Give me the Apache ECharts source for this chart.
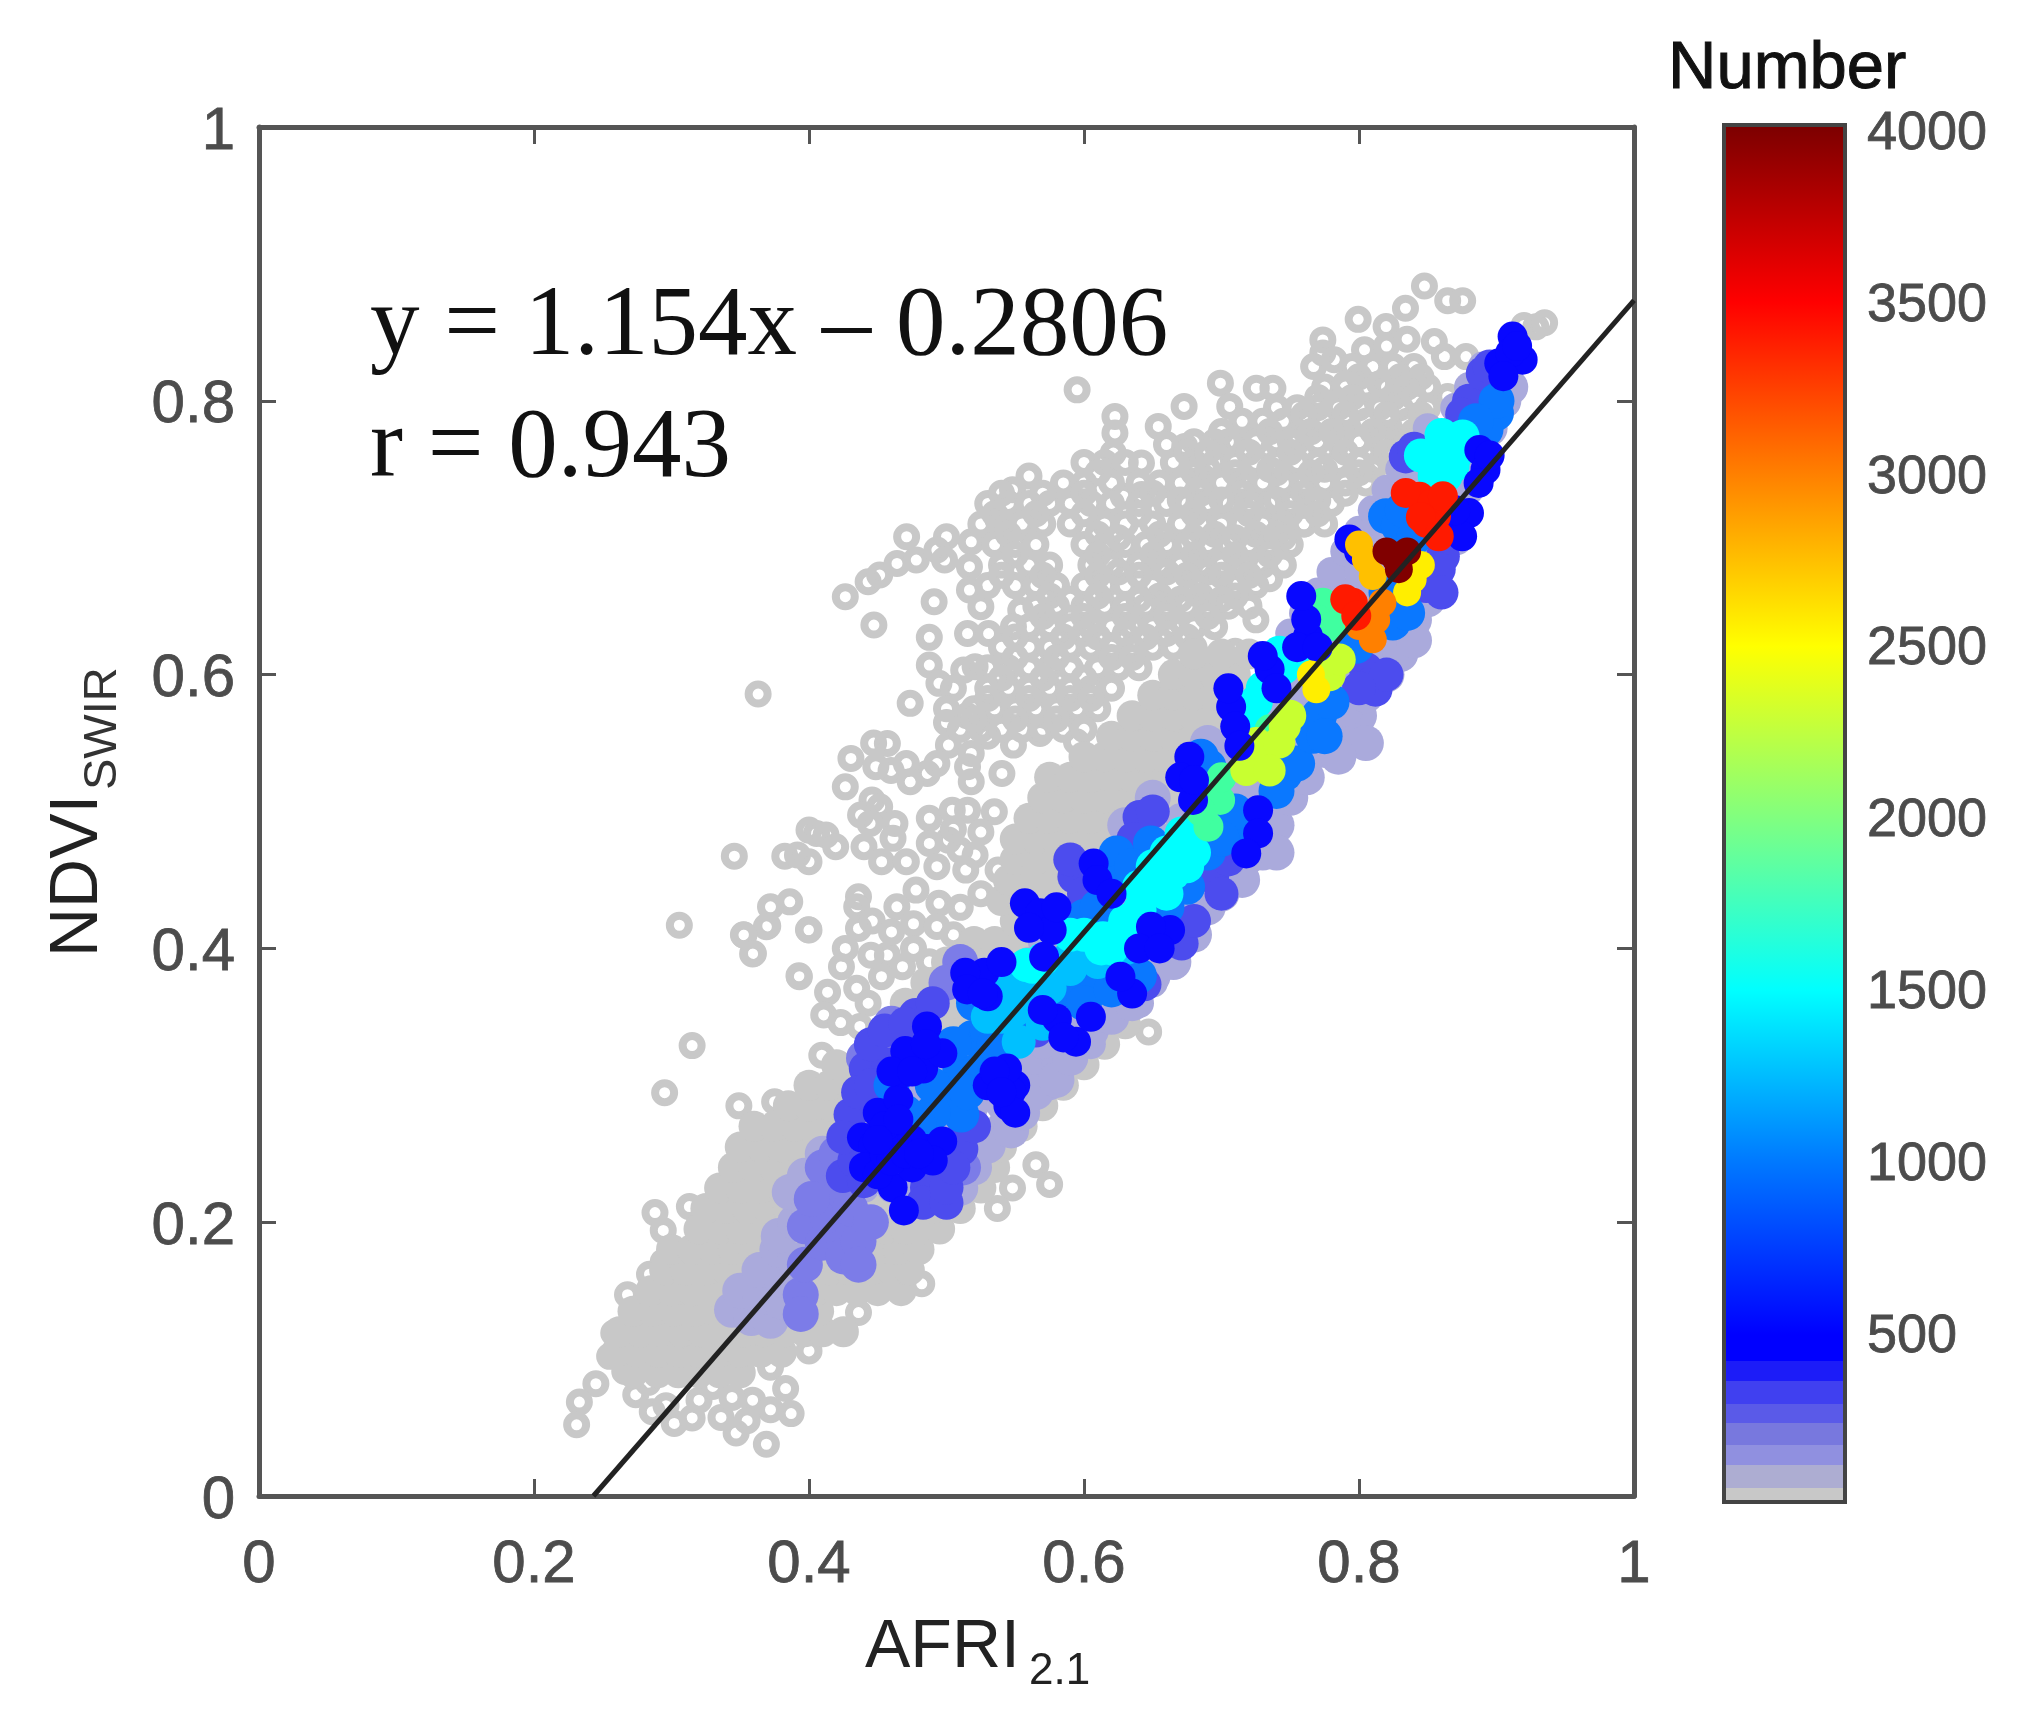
<!DOCTYPE html>
<html><head><meta charset="utf-8">
<style>html,body{margin:0;padding:0;background:#fff}#c{width:2037px;height:1728px}</style>
<script src="https://cdn.jsdelivr.net/npm/echarts@6/dist/echarts.min.js"></script>
</head><body><div id="c"></div>
<script>
const axisTicks=[0,.2,.4,.6,.8,1];
const fitLineX=[.2432,1];
const fitLineY=[0,.8734];
const barTicks=[500,1000,1500,2000,2500,3000,3500,4000];
const barStopValues=[0,55,55,122,122,180,180,245,245,300,300,365,365,425,425,500,1000,1500,2000,2500,3000,3500,4020];
const barStopColors=['#c8c8c8','#c8c8c8','#adadd2','#adadd2','#9090e0','#9090e0','#7878de','#7878de','#5a5ae8','#5a5ae8','#4040f0','#4040f0','#1c1cf8','#1c1cf8','#0000ff','#0000ff','#0078ff','#00ffff','#80ff80','#ffff00','#ff8000','#ff0000','#7a0000'];

// isolated and open rings [x,y]
const ringsLoose=[[.3057,.4169],[.3523,.41],[.37,.4164],[.359,.396],[.3996,.4136],[.3927,.38],[.315,.329],[.295,.2946],[.349,.285],[.375,.288],[.647,.339],[.565,.242],[.575,.2276],[.548,.225],[.537,.21],[.482,.155],[.436,.134],[.4,.106],[.288,.207],[.313,.2114],[.294,.194],[.294,.171],[.284,.162],[.268,.147],[.258,.119],[.255,.102],[.266,.091],[.245,.082],[.233,.0686],[.231,.052],[.274,.074],[.283,.083],[.286,.0616],[.302,.053],[.315,.057],[.32,.07],[.351,.091],[.372,.094],[.383,.0785],[.387,.0602],[.359,.07],[.347,.046],[.369,.0378],[.336,.0574],[.372,.063],[.344,.072],[.33,.08],[.355,.055],[.296,.066],
[.363,.5858],[.4264,.6569],[.4472,.6362],[.443,.6678],[.4514,.6727],[.464,.6812],[.471,.7007],[.478,.6837],[.491,.6532],[.4875,.6272],[.4875,.607],[.4945,.5936],[.4736,.579],[.518,.697],[.5,.7007],[.493,.691],[.4986,.6837],[.5375,.713],[.5167,.6788],[.5167,.6618],[.525,.6496],[.554,.647],[.5153,.63],[.5306,.63],[.5487,.635],[.5125,.6033],[.5208,.6058],[.505,.59],[.5,.575],[.515,.57],[.5,.565],[.53,.555],[.5014,.5485],[.493,.535],[.486,.5278],[.518,.5424],[.5153,.5327],[.518,.5217],[.5403,.5278],[.5487,.5485],[.568,.557],[.5945,.551],[.457,.5497],[.447,.55],[.4305,.5388],[.4264,.518],[.4597,.53],[.4486,.5327],[.4708,.535],[.4736,.5217],[.4458,.5084],[.4375,.4974],[.4514,.5035],[.4625,.4913],[.4444,.4913],[.4611,.4804],[.44,.4743],[.4528,.4633],[.4708,.4633],[.4055,.484],[.4,.4864],[.4124,.4828],[.4194,.4743],[.3457,.4674],[.3824,.4674],[.3916,.4682],[.4,.4633],[.4875,.495],[.5042,.501],[.5153,.501],[.5348,.4998],[.4875,.4767],[.5014,.4791],[.5097,.4718],[.5208,.4682],[.493,.4597],[.514,.4572],[.5375,.4572],[.525,.485],[.505,.487],[.386,.434],[.372,.4304],[.369,.4158],[.3527,.4097],[.3596,.3963],[.4,.4134],[.393,.3793],[.436,.4377],[.4347,.4304],[.4778,.4426],[.4639,.4304],[.4945,.4329],[.436,.4146],[.4264,.4],[.4236,.3866],[.457,.3951],[.468,.3866],[.4875,.3903],[.4347,.3708],[.4527,.3793],[.446,.42],[.46,.412],[.476,.418],[.493,.416],[.51,.43],[.525,.44],[.505,.41],[.445,.395],[.476,.4],[.443,.36],[.4093,.322],[.4135,.368],[.4107,.3514],[.423,.3458],[.437,.343],
[.8476,.8838],[.8645,.8731],[.8754,.8731],[.7994,.8595],[.8338,.8676],[.8197,.8542],[.7737,.8445],[.804,.8372],[.8548,.8433],[.8621,.8323],[.8778,.8323],[.8645,.8032],[.6992,.8129],[.7253,.8092],[.7374,.8092],[.6728,.7959],[.706,.7959],[.6225,.7886],[.6225,.7765],[.654,.7813],[.66,.768],[.6733,.7667],[.6213,.7618],[.6418,.7546],[.6285,.7303],[.642,.7315],[.7737,.835],[.767,.825],[.782,.83],[.82,.84],[.835,.845],[.595,.808],[.56,.745],[.548,.735],[.71,.617],[.725,.64],[.735,.67],[.76,.71],[.92,.855],[.9286,.854],[.935,.857]];
// overlapping rings that merge into the upper cloud: [y, x, x, ...]
const ringsCloudRows=[
[.825,.795,.81,.825,.84],
[.81,.775,.79,.805,.82,.835,.85],
[.795,.74,.755,.77,.785,.80,.815,.83,.85],
[.785,.715,.73,.745,.76,.775,.79,.805,.82,.835,.848],
[.77,.68,.695,.71,.725,.74,.755,.77,.785,.80,.815,.83],
[.755,.60,.615,.63,.665,.68,.695,.71,.725,.74,.755,.77,.785,.80,.815],
[.74,.585,.60,.62,.64,.655,.67,.685,.70,.715,.73,.745,.76,.775,.79,.805],
[.725,.53,.545,.56,.575,.59,.605,.62,.64,.66,.675,.69,.705,.72,.735,.75,.765,.78],
[.71,.525,.54,.555,.57,.59,.615,.63,.65,.67,.685,.70,.715,.73,.745,.76,.775],
[.695,.535,.55,.565,.60,.615,.63,.645,.66,.675,.69,.705,.72,.735,.75],
[.68,.54,.56,.575,.605,.62,.64,.655,.67,.685,.70,.715,.73,.745],
[.665,.53,.55,.565,.58,.60,.615,.63,.65,.665,.68,.695,.71,.725],
[.65,.565,.58,.60,.615,.63,.645,.66,.675,.69,.705,.72],
[.635,.56,.575,.59,.605,.62,.635,.65,.665,.68,.695],
[.62,.54,.56,.575,.59,.605,.62,.635,.65,.665,.68],
[.605,.53,.545,.56,.575,.59,.61,.625,.64],
[.59,.53,.545,.56,.575,.59,.605,.62],
[.575,.52,.535,.55,.565,.58,.595,.61],
[.56,.51,.525,.54,.555,.57,.585,.60]];
const ringsCloudExtraRows=[
[.8175,.80,.83,.845],
[.8125,.79,.815,.84],
[.8025,.77,.795,.825,.84],
[.79,.76,.79,.82,.845],
[.7775,.70,.735,.765,.78,.81,.84],
[.77,.705,.75,.80,.835],
[.7625,.675,.69,.72,.75,.79,.82],
[.75,.69,.735,.775,.81],
[.7475,.61,.68,.71,.74,.765,.80],
[.7325,.54,.57,.60,.65,.685,.715,.76,.79],
[.7275,.67,.70,.74,.77],
[.7175,.535,.565,.60,.64,.68,.72,.75,.77],
[.7025,.545,.61,.655,.695,.725,.74],
[.70,.625,.68,.71,.745],
[.6875,.55,.61,.65,.68,.71,.735],
[.675,.625,.66,.69],
[.6725,.54,.57,.61,.64,.675,.70,.72],
[.6575,.575,.61,.655,.685,.71],
[.655,.59,.64,.67,.70],
[.6425,.57,.60,.63,.66,.69],
[.63,.60,.63,.66],
[.6275,.55,.585,.61,.645,.675],
[.6125,.55,.58,.62,.635],
[.5975,.54,.57,.60],
[.5825,.53,.56,.59,.605],
[.5675,.52,.55,.58]];
// solid gray mass along the fit line: [y, x, x, ...]
const graySolidRows=[
[.09,.272,.29,.305,.32,.335,.35],
[.105,.26,.275,.29,.305,.32,.335,.35,.365,.38],
[.12,.262,.277,.292,.307,.322,.337,.352,.367,.382,.397,.41,.425],
[.135,.272,.287,.302,.317,.332,.347,.362,.377,.392,.407],
[.15,.285,.30,.315,.33,.345,.36,.375,.39,.405,.42,.435,.45,.467],
[.165,.295,.31,.325,.34,.355,.37,.385,.40,.415,.43,.445,.46,.473],
[.18,.30,.315,.33,.345,.36,.375,.39,.405,.42,.435,.45,.465,.48],
[.195,.32,.335,.35,.365,.38,.395,.41,.425,.44,.455,.47,.485,.495],
[.21,.325,.34,.355,.37,.385,.40,.415,.43,.445,.46,.475,.49,.51],
[.225,.335,.35,.365,.38,.395,.41,.425,.50,.525],
[.24,.345,.36,.375,.39,.405,.42,.52,.535],
[.255,.35,.365,.38,.395,.41,.425,.54],
[.27,.36,.375,.39,.405,.42,.435,.45,.555],
[.285,.385,.40,.415,.43,.445,.57],
[.30,.40,.415,.43,.445,.46,.585],
[.315,.42,.435,.45,.465,.48,.60],
[.33,.45,.465,.48,.495,.615],
[.345,.465,.48,.495,.51,.63],
[.36,.47,.49,.505,.52],
[.375,.485,.50,.515,.53],
[.39,.50,.515,.53,.545],
[.405,.52,.535,.55],
[.42,.55,.565,.58],
[.435,.54,.555,.57,.585],
[.45,.545,.56,.575,.59,.605],
[.465,.55,.565,.58,.595,.61,.625],
[.48,.55,.565,.58,.595,.61,.625,.64],
[.495,.56,.575,.59,.605,.62,.635,.65],
[.51,.57,.585,.60,.615,.63,.645,.66],
[.525,.575,.59,.605,.62,.635,.65,.665],
[.54,.60,.615,.63,.645,.66,.675],
[.555,.62,.635,.65,.665,.68],
[.57,.635,.65,.665,.68,.695],
[.585,.65,.665,.68,.695,.71],
[.60,.665,.68,.695,.71],
[.615,.68,.70,.72]];
// low-density points filling the interior of the coloured band: [y, x, x, ...]
const bandUnderRows=[
[.225,.44,.46,.48],[.24,.44,.46,.48,.50],[.255,.44,.46,.48,.50,.52],[.27,.46,.48,.50,.52,.54],
[.285,.46,.48,.50,.52,.54,.555],[.30,.48,.50,.52,.54,.56,.575],[.315,.50,.52,.54,.56,.58],
[.33,.51,.53,.55,.57,.59,.605],[.345,.53,.55,.57,.59,.61],[.36,.54,.56,.58,.60,.62,.64],
[.375,.55,.57,.59,.61,.63,.65],[.39,.56,.58,.60,.62,.64,.66],[.405,.57,.59,.61,.63,.65,.67],
[.42,.60,.62,.64,.66,.68],[.435,.60,.62,.64,.66,.68,.695],[.45,.62,.64,.66,.68,.70],
[.465,.64,.66,.68,.70,.72],[.48,.66,.68,.70,.72],[.495,.67,.69,.71,.73],[.51,.68,.70,.72,.74],
[.525,.69,.71,.73,.75],[.54,.70,.72,.74,.76],[.555,.71,.73,.75,.77],[.57,.72,.74,.76,.78],
[.585,.73,.75,.77,.79],[.60,.74,.76,.78,.80],[.615,.74,.76,.78,.80,.82],[.63,.75,.77,.79,.81],
[.645,.76,.78,.80,.82,.84],[.66,.77,.79,.81,.83,.85],[.675,.78,.80,.82,.84],[.69,.79,.81,.83,.85],
[.705,.80,.82,.84,.86],[.72,.81,.83,.85,.87],[.735,.82,.84,.86,.88],[.75,.83,.85,.87,.88],
[.765,.84,.86,.88],[.78,.85,.87,.89],[.795,.87,.89,.90],[.81,.88,.90],[.825,.89,.905]];
const lavenderPts=[[.344,.136],[.358,.13],[.372,.128],[.35,.15],[.365,.145],[.38,.142],[.364,.165],[.38,.158],[.377,.18],[.39,.172],[.378,.19],[.39,.2],[.404,.19],[.386,.222],[.397,.234],[.4,.21],[.41,.22],[.41,.25],[.497,.217],[.51,.225],[.52,.24],[.53,.256],[.547,.267],[.555,.28],[.565,.295],[.58,.304],[.59,.32],[.605,.34],[.62,.35],[.635,.36],[.65,.38],[.665,.39],[.68,.41],[.69,.43],[.70,.44],[.715,.45],[.73,.47],[.74,.49],[.75,.51],[.762,.525],[.775,.545],[.79,.555],[.80,.57],[.79,.575],[.805,.585],[.82,.6],[.83,.63],[.84,.64],[.85,.655],[.805,.55],[.785,.54],[.87,.7],[.905,.80],[.91,.81],[.895,.78],[.875,.735],[.83,.615],[.74,.47],[.69,.55],[.65,.51],[.63,.49],[.84,.625]];
const periwinklePts=[[.394,.147],[.394,.133],[.397,.169],[.397,.197],[.41,.185],[.422,.195],[.425,.175],[.436,.186],[.436,.169],[.413,.205],[.41,.24],[.42,.225],[.43,.21],[.445,.20],[.402,.217],[.4969,.2254],[.512,.24],[.42,.25],[.46,.345],[.45,.33],[.44,.32],[.51,.39],[.50,.375]];
const indigoPts=[[.4246,.2338],[.433,.245],[.4302,.2786],[.4413,.3122],[.4357,.295],[.458,.315],[.4775,.3514],[.49,.36],[.4858,.2254],[.483,.2142],[.5,.2142],[.5136,.2674],[.5108,.2534],[.52,.27],[.565,.34],[.593,.4524],[.6,.44],[.6404,.496],[.636,.48],[.65,.50],[.6932,.4524],[.70,.44],[.705,.465],[.671,.4036],[.68,.42],[.834,.7594],[.84,.765],[.8826,.791],[.89,.803],[.897,.813],[.875,.78],[.885,.775],[.812,.589],[.805,.604],[.82,.60],[.797,.615],[.80,.59],[.861,.6865],[.8488,.6647],[.858,.677],[.644,.3738],[.86,.66],[.59,.465],[.5,.2254],[.505,.24],[.44,.23],[.425,.262],[.88,.80],[.89,.82],[.895,.825],[.875,.79],[.445,.30],[.445,.33],[.455,.34],[.47,.345]];
const azurePts=[[.5,.2954],[.5247,.3122],[.519,.3346],[.5108,.2786],[.5386,.3234],[.5636,.3542],[.51,.31],[.49,.28],[.48,.27],[.505,.33],[.53,.34],[.55,.34],[.515,.295],[.535,.33],[.6237,.4694],[.6237,.4475],[.6487,.4767],[.635,.46],[.6,.423],[.61,.43],[.615,.375],[.6,.3744],[.585,.37],[.6,.36],[.62,.37],[.64,.38],[.645,.43],[.66,.43],[.675,.445],[.69,.47],[.7155,.491],[.71,.50],[.70,.48],[.746,.5278],[.74,.515],[.755,.535],[.7665,.5553],[.771,.57],[.78,.58],[.775,.555],[.8246,.638],[.829,.6525],[.835,.645],[.82,.66],[.8197,.7157],[.829,.7084],[.8318,.7205],[.84,.70],[.8996,.791],[.892,.779],[.90,.80],[.798,.621],[.6905,.5327],[.685,.54],[.47,.28],[.46,.30],[.49,.30],[.52,.36],[.885,.785]];
const skyPts=[[.5525,.3318],[.575,.371],[.56,.365],[.54,.35],[.57,.345],[.59,.385],[.6,.40],[.585,.39],[.625,.41],[.545,.37],[.53,.35],[.61,.39],[.63,.40],[.55,.355]];
const cyanPts=[[.558,.3878],[.57,.392],[.6137,.4074],[.5625,.3866],[.6126,.4],[.6265,.411],[.6404,.428],[.6543,.4524],[.668,.4718],[.671,.484],[.66,.44],[.645,.44],[.65,.46],[.63,.42],[.62,.40],[.66,.47],[.68,.47],[.665,.455],[.675,.46],[.742,.616],[.752,.6136],[.72,.5723],[.725,.58],[.715,.575],[.73,.59],[.745,.605],[.863,.769],[.8536,.757],[.868,.752],[.863,.745],[.8754,.774],[.845,.76],[.87,.76],[.855,.745],[.86,.775],[.59,.41],[.60,.41],[.64,.445]];
const bluePts=[[.4385,.2618],[.4469,.256],[.4608,.2618],[.4858,.2534],[.4969,.259],[.475,.26],[.45,.28],[.465,.29],[.469,.3094],[.483,.3122],[.497,.3234],[.4858,.343],[.47,.325],[.455,.27],[.44,.24],[.4608,.2254],[.469,.2086],[.45,.235],[.475,.24],[.49,.245],[.455,.25],[.46,.245],[.47,.25],[.46,.31],[.475,.31],[.485,.33],[.465,.275],[.45,.26],[.48,.25],[.53,.30],[.55,.30],[.545,.285],[.5275,.3822],[.5136,.3822],[.515,.37],[.53,.365],[.5264,.367],[.54,.39],[.547,.2954],[.544,.3122],[.535,.31],[.55,.28],[.54,.295],[.5803,.3486],[.5942,.3318],[.57,.355],[.585,.335],[.605,.35],[.557,.4329],[.568,.4256],[.5765,.4134],[.571,.3939],[.56,.415],[.58,.43],[.607,.462],[.6098,.4499],[.62,.44],[.6626,.4134],[.6487,.4158],[.635,.367],[.6265,.3793],[.64,.40],[.655,.40],[.6766,.54],[.6793,.5084],[.67,.525],[.68,.523],[.7266,.501],[.7266,.484],[.718,.4694],[.707,.5765],[.71,.562],[.713,.548],[.705,.59],[.735,.6039],[.73,.6136],[.74,.59],[.7629,.6282],[.7616,.6403],[.758,.6574],[.755,.62],[.77,.62],[.793,.6987],[.80,.69],[.8875,.764],[.892,.7497],[.887,.74],[.895,.76],[.873,.7108],[.88,.718],[.875,.701],[.87,.72],[.9117,.8469],[.919,.83],[.902,.8275],[.91,.835],[.905,.818],[.915,.84]];
const springPts=[[.699,.5084],[.6905,.4889],[.685,.50],[.70,.525],[.7737,.6525],[.77,.64],[.781,.6355],[.735,.56]];
const yellowGreenPts=[[.718,.5303],[.73,.54],[.725,.55],[.746,.562],[.742,.5504],[.75,.57],[.735,.53],[.7786,.5995],[.786,.611],[.775,.61]];
const yellowPts=[[.769,.5893],[.765,.60],[.839,.6695],[.845,.68],[.835,.66]];
const goldPts=[[.805,.684],[.81,.672],[.80,.695]];
const orangePts=[[.8125,.64],[.81,.6258],[.817,.6525],[.80,.6355]];
const redPts=[[.7955,.6525],[.79,.655],[.798,.643],[.844,.73],[.834,.7327],[.8536,.7254],[.856,.7157],[.849,.7108],[.861,.7303],[.845,.715],[.858,.701]];
const darkRedPts=[[.827,.684],[.829,.677],[.82,.69],[.835,.69]];

const expand=rows=>rows.flatMap(r=>r.slice(1).map(x=>[x,r[0]]));
const solid=(name,data,color,size)=>({name,type:'scatter',data,symbolSize:size,silent:true,itemStyle:{color,borderWidth:0,opacity:1}});
const GR='#4c4c4c';
const LOW=9,HIGH=4020;
const barStops=barStopValues.map((v,i)=>({offset:1-(v<LOW?0:(v-LOW)/(HIGH-LOW)),color:barStopColors[i]})).reverse();
const font='"Liberation Sans",Arial,sans-serif';
const chart=echarts.init(document.getElementById('c'),null,{renderer:'canvas'});
const box=(extra)=>Object.assign({type:'value',min:0,max:1,interval:.2,axisLine:{show:true,onZero:false,lineStyle:{color:'#555',width:5}},axisTick:{show:true,inside:true,length:17,lineStyle:{color:'#555',width:3}},splitLine:{show:false}},extra);
const tickToken=(size,top)=>({color:GR,fontSize:size,fontFamily:font,padding:[top,0,0,0],textBorderColor:GR,textBorderWidth:.8});
const labX={show:true,margin:39,color:GR,fontSize:60,fontFamily:font,textBorderColor:GR,textBorderWidth:.8,formatter:v=>String(+v.toFixed(1))};
const labY={show:true,margin:24,formatter:v=>'{a|'+(+v.toFixed(1))+'}',rich:{a:tickToken(60,10)}};
chart.setOption({
 animation:false,backgroundColor:'#fff',
 grid:[{left:259,top:127,width:1375,height:1369},{left:1722,top:123,width:125,height:1379}],
 xAxis:[box({gridIndex:0,position:'bottom',axisLabel:labX}),box({gridIndex:0,position:'top',axisLabel:{show:false}}),
  {type:'category',gridIndex:1,data:[''],axisLine:{show:false},axisTick:{show:false},axisLabel:{show:false}}],
 yAxis:[box({gridIndex:0,position:'left',axisLabel:labY}),box({gridIndex:0,position:'right',axisLabel:{show:false}}),
  {type:'value',gridIndex:1,position:'right',min:LOW,max:HIGH,splitLine:{show:false},axisLine:{show:false},
   axisTick:{show:true,inside:true,length:14,lineStyle:{color:'#333',width:2},customValues:barTicks},
   axisLabel:{show:true,margin:20,customValues:barTicks,formatter:v=>'{a|'+v+'}',rich:{a:tickToken(54,8)}}}],
 series:[
  {name:'rings',type:'scatter',silent:true,data:ringsLoose.concat(expand(ringsCloudRows),expand(ringsCloudExtraRows)),symbolSize:19,itemStyle:{color:'rgba(0,0,0,0)',borderColor:'#c8c8c8',borderWidth:8,opacity:1}},
  solid('gray',expand(graySolidRows),'#c8c8c8',31),
  solid('bandUnder',expand(bandUnderRows),'#aaaadc',30),
  solid('lavender',lavenderPts,'#aaaadc',36),
  solid('periwinkle',periwinklePts,'#7c7ce8',36),
  solid('indigo',indigoPts,'#4c4cee',34),
  solid('azure',azurePts,'#0a78ff',36),
  solid('sky',skyPts,'#00c0ff',34),
  solid('cyan',cyanPts,'#00ffff',34),
  solid('spring',springPts,'#40ffa0',30),
  solid('yellowgreen',yellowGreenPts,'#c8ff30',32),
  solid('blue',bluePts,'#0808ff',30),
  solid('yellow',yellowPts,'#ffee00',28),
  solid('gold',goldPts,'#ffc000',28),
  solid('orange',orangePts,'#ff8000',28),
  solid('red',redPts,'#ff1a00',30),
  solid('darkred',darkRedPts,'#800000',28),
  {name:'fit',type:'line',data:fitLineX.map((x,i)=>[x,fitLineY[i]]),symbol:'none',silent:true,z:5,lineStyle:{color:'#222',width:5}},
  {name:'colorbar',type:'bar',xAxisIndex:2,yAxisIndex:2,data:[HIGH],barWidth:'100%',silent:true,
   itemStyle:{borderColor:'#444',borderWidth:4,color:new echarts.graphic.LinearGradient(0,0,0,1,barStops)}}
 ],
 graphic:[
  {type:'text',silent:true,style:{text:'y = 1.154x – 0.2806',x:370,y:328,font:'99px "Liberation Serif",serif',fill:'#111',textVerticalAlign:'middle'}},
  {type:'text',silent:true,style:{text:'r = 0.943',x:370,y:450,font:'99px "Liberation Serif",serif',fill:'#111',textVerticalAlign:'middle'}},
  {type:'text',silent:true,style:{text:'AFRI',x:865,y:1648,font:'68px '+font,fill:'#222',textVerticalAlign:'middle'}},
  {type:'text',silent:true,style:{text:'2.1',x:1029,y:1672,font:'44px '+font,fill:'#222',textVerticalAlign:'middle'}},
  {type:'text',silent:true,x:78,y:957,rotation:Math.PI/2,style:{text:'NDVI',x:0,y:0,font:'68px '+font,fill:'#222',textVerticalAlign:'middle'}},
  {type:'text',silent:true,x:103,y:790,rotation:Math.PI/2,style:{text:'SWIR',x:0,y:0,font:'47px '+font,fill:'#333',textVerticalAlign:'middle'}},
  {type:'text',silent:true,style:{text:'Number',x:1668,y:70,font:'67px '+font,fill:'#111',textVerticalAlign:'middle',stroke:'#111',lineWidth:1}}
 ]
});
</script></body></html>
